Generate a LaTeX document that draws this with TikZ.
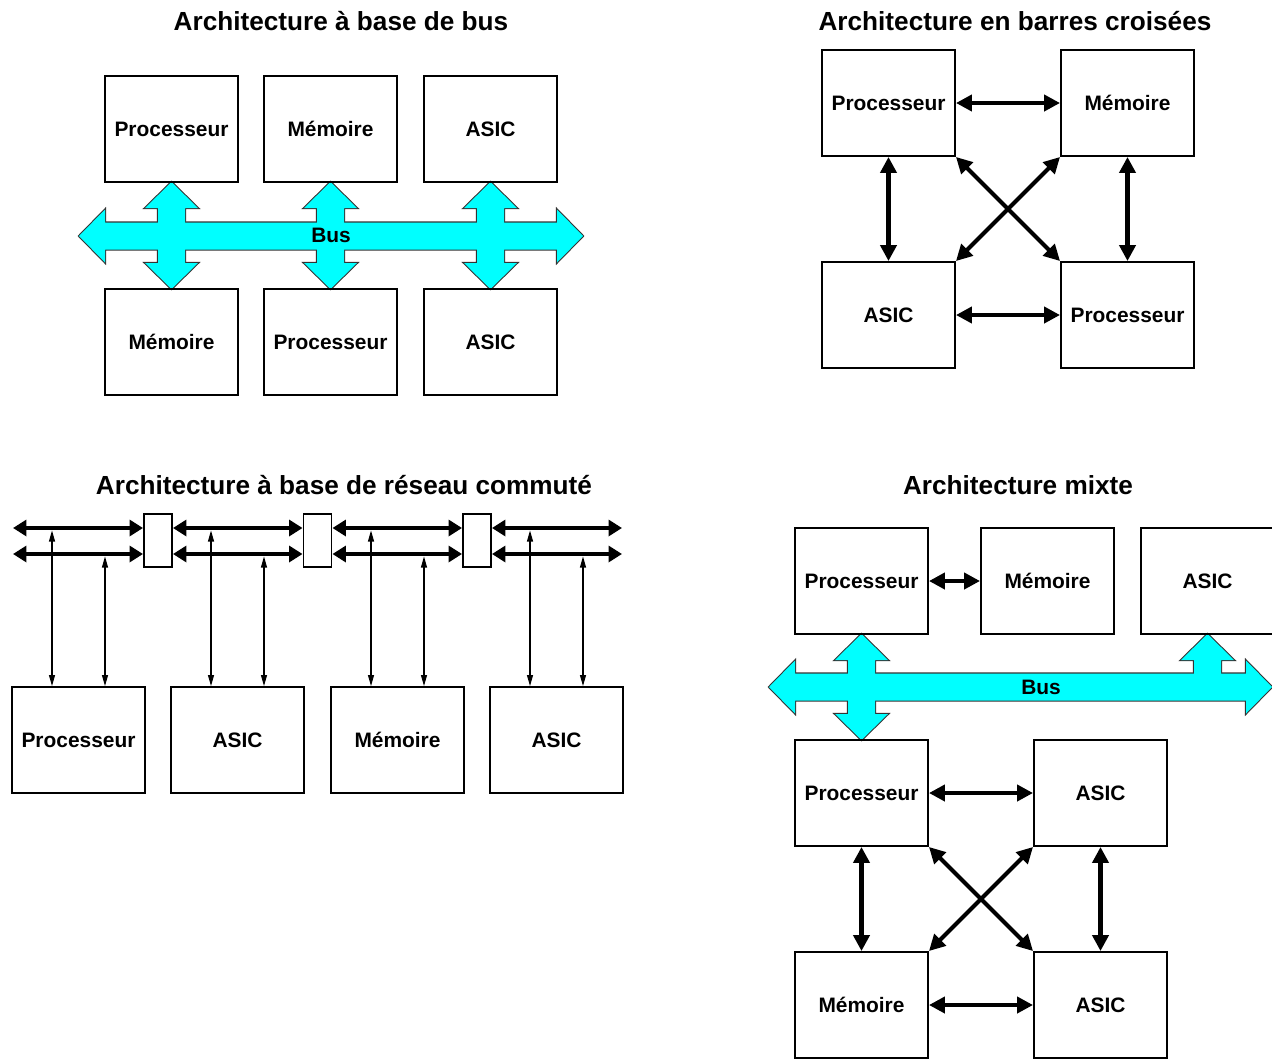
\documentclass[tikz,border=0pt]{standalone}
\usepackage{fontspec}
\setmainfont{Liberation Sans}
\usepackage{tikz}
\usetikzlibrary{arrows.meta}

\definecolor{cyanvif}{RGB}{0,255,255}

% double fleche horizontale du bus : [style]{x1}{x2}{y}
\newcommand{\hbus}[4][]{\path[#1] (#2,#4) -- ({#2+26},{#4-26.5}) -- ({#2+26},{#4-13.5}) -- ({#3-26},{#4-13.5}) -- ({#3-26},{#4-26.5}) -- (#3,#4) -- ({#3-26},{#4+26.5}) -- ({#3-26},{#4+13.5}) -- ({#2+26},{#4+13.5}) -- ({#2+26},{#4+26.5}) -- cycle;}
% double fleche verticale : [style]{x}{y1}{y2}
\newcommand{\vbus}[4][]{\path[#1] (#2,#3) -- ({#2+26.5},{#3+26}) -- ({#2+13.5},{#3+26}) -- ({#2+13.5},{#4-26}) -- ({#2+26.5},{#4-26}) -- (#2,#4) -- ({#2-26.5},{#4-26}) -- ({#2-13.5},{#4-26}) -- ({#2-13.5},{#3+26}) -- ({#2-26.5},{#3+26}) -- cycle;}
% fleche simple vers le haut : [style]{x}{y pointe}{y base}
\newcommand{\vbusup}[4][]{\path[#1] (#2,#3) -- ({#2+26.5},{#3+26}) -- ({#2+13.5},{#3+26}) -- ({#2+13.5},#4) -- ({#2-13.5},#4) -- ({#2-13.5},{#3+26}) -- ({#2-26.5},{#3+26}) -- cycle;}

\tikzset{
  bloc/.style={draw, line width=1.1pt, minimum width=2.66cm, minimum height=2.12cm, inner sep=0pt, font=\fontsize{11.9}{14}\selectfont\bfseries},
  commut/.style={draw, line width=1.1pt, minimum width=0.56cm, minimum height=1.06cm, inner sep=0pt},
  titre/.style={font=\fontsize{14.9}{18}\selectfont\bfseries},
  etiq/.style={font=\fontsize{11.9}{14}\selectfont\bfseries},
  lien/.style={line width=2.3pt, {Triangle[length=0.32cm,width=0.32cm]}-{Triangle[length=0.32cm,width=0.32cm]}},
  ligne/.style={line width=2.8pt, {Triangle[length=0.27cm,width=0.32cm]}-{Triangle[length=0.27cm,width=0.32cm]}},
  fil/.style={line width=0.6pt, {Triangle[length=0.22cm,width=0.12cm]}-{Triangle[length=0.22cm,width=0.12cm]}},
  busbord/.style={draw=black!80, line width=1.2pt},
  busfond/.style={fill=cyanvif}
}

\begin{document}
\begin{tikzpicture}[x=0.02cm, y=-0.02cm]
    \useasboundingbox (0,0) rectangle (1272,1059);
    \clip (0,0) rectangle (1272,1059);

    % --- bus (contour puis remplissage)
    \hbus[busbord]{79}{583}{236}
    \vbus[busbord]{171.5}{182}{289}
    \vbus[busbord]{330.5}{182}{289}
    \vbus[busbord]{490.5}{182}{289}
    \hbus[busbord]{769}{1272}{687}
    \vbus[busbord]{861.5}{634}{740}
    \vbusup[busbord]{1207.5}{634}{687}
    \hbus[busfond]{79}{583}{236}
    \vbus[busfond]{171.5}{182}{289}
    \vbus[busfond]{330.5}{182}{289}
    \vbus[busfond]{490.5}{182}{289}
    \hbus[busfond]{769}{1272}{687}
    \vbus[busfond]{861.5}{634}{740}
    \vbusup[busfond]{1207.5}{634}{687}

    % --- architecture a base de bus
    \node[titre] (ta) at (341,21) {Architecture à base de bus};
    \node[bloc] (a1) at (171.5,129) {Processeur};
    \node[bloc] (a2) at (330.5,129) {Mémoire};
    \node[bloc] (a3) at (490.5,129) {ASIC};
    \node[bloc] (a4) at (171.5,342) {Mémoire};
    \node[bloc] (a5) at (330.5,342) {Processeur};
    \node[bloc] (a6) at (490.5,342) {ASIC};
    \node[etiq] (bus1) at (331,235) {Bus};

    % --- barres croisees
    \node[titre] (tb) at (1015,21) {Architecture en barres croisées};
    \node[bloc] (b1) at (888.5,103) {Processeur};
    \node[bloc] (b2) at (1127.5,103) {Mémoire};
    \node[bloc] (b3) at (888.5,315) {ASIC};
    \node[bloc] (b4) at (1127.5,315) {Processeur};

    \draw[lien] (b1) -- (b2);
    \draw[lien] (b3) -- (b4);
    \draw[lien] (b1) -- (b3);
    \draw[lien] (b2) -- (b4);
    \draw[lien] (b1.south east) -- (b4.north west);
    \draw[lien] (b2.south west) -- (b3.north east);

    % --- reseau commute
    \node[titre] (tc) at (344,485) {Architecture à base de réseau commuté};
    \node[commut] (s1) at (158,540.5) {};
    \node[commut] (s2) at (317.5,540.5) {};
    \node[commut] (s3) at (477,540.5) {};
    \node[bloc] (c1) at (78.5,740) {Processeur};
    \node[bloc] (c2) at (237.5,740) {ASIC};
    \node[bloc] (c3) at (397.5,740) {Mémoire};
    \node[bloc] (c4) at (556.5,740) {ASIC};

    \coordinate (ga) at (13,528);
    \coordinate (da) at (622,528);
    \coordinate (gb) at (13,554);
    \coordinate (db) at (622,554);
    \coordinate (ua) at (0,530.5);
    \coordinate (ub) at (0,556.5);

    \foreach \r in {a,b} {
        \draw[ligne] (g\r) -- (g\r -| s1.west);
        \draw[ligne] (g\r -| s1.east) -- (g\r -| s2.west);
        \draw[ligne] (g\r -| s2.east) -- (g\r -| s3.west);
        \draw[ligne] (g\r -| s3.east) -- (d\r);
    }
    \foreach \c in {c1,c2,c3,c4} {
        \draw[fil] ([xshift=-0.53cm]\c.north) -- ([xshift=-0.53cm]\c.north |- ua);
        \draw[fil] ([xshift=0.53cm]\c.north) -- ([xshift=0.53cm]\c.north |- ub);
    }

    % --- architecture mixte
    \node[titre] (td) at (1018,485) {Architecture mixte};
    \node[bloc] (m1) at (861.5,581) {Processeur};
    \node[bloc] (m2) at (1047.5,581) {Mémoire};
    \node[bloc] (m3) at (1207.5,581) {ASIC};
    \node[bloc] (m4) at (861.5,793) {Processeur};
    \node[bloc] (m5) at (1100.5,793) {ASIC};
    \node[bloc] (m6) at (861.5,1005) {Mémoire};
    \node[bloc] (m7) at (1100.5,1005) {ASIC};
    \node[etiq] (bus2) at (1041,687) {Bus};

    \draw[lien] (m1) -- (m2);
    \draw[lien] (m4) -- (m5);
    \draw[lien] (m6) -- (m7);
    \draw[lien] (m4) -- (m6);
    \draw[lien] (m5) -- (m7);
    \draw[lien] (m4.south east) -- (m7.north west);
    \draw[lien] (m5.south west) -- (m6.north east);
\end{tikzpicture}
\end{document}
